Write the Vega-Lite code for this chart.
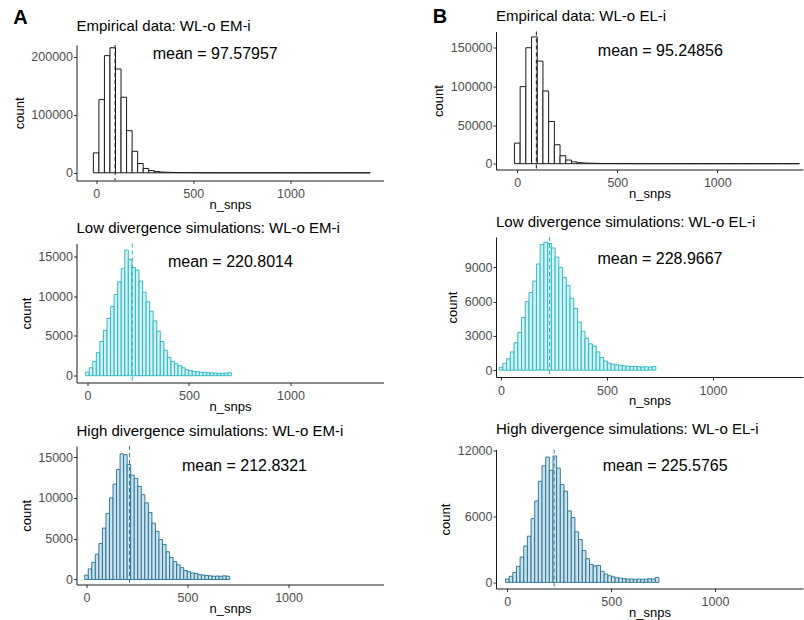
{
  "$schema": "https://vega.github.io/schema/vega-lite/v6.json",
  "padding": {"left": 12.5, "top": 6.5, "right": 2, "bottom": 1},
  "background": "white",
  "config": {
    "font": "Liberation Sans",
    "view": {"stroke": null},
    "axis": {"grid": false, "domainColor": "#1a1a1a", "domainWidth": 1, "tickColor": "#333333", "tickWidth": 1, "tickSize": 3, "labelColor": "#4d4d4d", "labelFontSize": 12.5, "titleFontSize": 13, "titleFontWeight": "normal", "titleColor": "#000000", "labelFlush": false, "labelOverlap": false, "labelBound": false, "format": "d"},
    "axisX": {"labelPadding": 4, "titlePadding": -2},
    "axisY": {"labelPadding": 1, "titlePadding": 4.5},
    "title": {"fontSize": 15, "fontWeight": "normal", "anchor": "start", "frame": "group", "offset": 7, "color": "#000000"}
  },
  "datasets": {
    "emp": [
      {"x0": -14.25, "x1": 14.25, "A": 34300, "B": 26600},
      {"x0": 14.25, "x1": 42.75, "A": 126000, "B": 99700},
      {"x0": 42.75, "x1": 71.25, "A": 201500, "B": 150000},
      {"x0": 71.25, "x1": 99.75, "A": 215000, "B": 164000},
      {"x0": 99.75, "x1": 128.25, "A": 178500, "B": 132700},
      {"x0": 128.25, "x1": 156.75, "A": 130000, "B": 94000},
      {"x0": 156.75, "x1": 185.25, "A": 72500, "B": 54600},
      {"x0": 185.25, "x1": 213.75, "A": 37000, "B": 24500},
      {"x0": 213.75, "x1": 242.25, "A": 16000, "B": 10300},
      {"x0": 242.25, "x1": 270.75, "A": 7500, "B": 4700},
      {"x0": 270.75, "x1": 299.25, "A": 3800, "B": 2400},
      {"x0": 299.25, "x1": 327.75, "A": 2200, "B": 1300},
      {"x0": 327.75, "x1": 356.25, "A": 1300, "B": 850},
      {"x0": 356.25, "x1": 384.75, "A": 900, "B": 600},
      {"x0": 384.75, "x1": 413.25, "A": 650, "B": 430},
      {"x0": 413.25, "x1": 441.75, "A": 480, "B": 320},
      {"x0": 441.75, "x1": 470.25, "A": 360, "B": 240},
      {"x0": 470.25, "x1": 498.75, "A": 280, "B": 185},
      {"x0": 498.75, "x1": 527.25, "A": 220, "B": 145},
      {"x0": 527.25, "x1": 555.75, "A": 170, "B": 115},
      {"x0": 555.75, "x1": 584.25, "A": 140, "B": 90},
      {"x0": 584.25, "x1": 612.75, "A": 110, "B": 72},
      {"x0": 612.75, "x1": 641.25, "A": 90, "B": 60},
      {"x0": 641.25, "x1": 669.75, "A": 75, "B": 50},
      {"x0": 669.75, "x1": 698.25, "A": 60, "B": 40},
      {"x0": 698.25, "x1": 726.75, "A": 50, "B": 33},
      {"x0": 726.75, "x1": 755.25, "A": 42, "B": 28},
      {"x0": 755.25, "x1": 783.75, "A": 35, "B": 23},
      {"x0": 783.75, "x1": 812.25, "A": 30, "B": 20},
      {"x0": 812.25, "x1": 840.75, "A": 25, "B": 17},
      {"x0": 840.75, "x1": 869.25, "A": 22, "B": 14},
      {"x0": 869.25, "x1": 897.75, "A": 18, "B": 12},
      {"x0": 897.75, "x1": 926.25, "A": 15, "B": 10},
      {"x0": 926.25, "x1": 954.75, "A": 13, "B": 9},
      {"x0": 954.75, "x1": 983.25, "A": 11, "B": 7},
      {"x0": 983.25, "x1": 1011.75, "A": 9, "B": 6},
      {"x0": 1011.75, "x1": 1040.25, "A": 8, "B": 5},
      {"x0": 1040.25, "x1": 1068.75, "A": 7, "B": 5},
      {"x0": 1068.75, "x1": 1097.25, "A": 6, "B": 4},
      {"x0": 1097.25, "x1": 1125.75, "A": 5, "B": 3},
      {"x0": 1125.75, "x1": 1154.25, "A": 4, "B": 3},
      {"x0": 1154.25, "x1": 1182.75, "A": 4, "B": 2},
      {"x0": 1182.75, "x1": 1211.25, "A": 3, "B": 2},
      {"x0": 1211.25, "x1": 1239.75, "A": 3, "B": 2},
      {"x0": 1239.75, "x1": 1268.25, "A": 2, "B": 1},
      {"x0": 1268.25, "x1": 1296.75, "A": 2, "B": 1},
      {"x0": 1296.75, "x1": 1325.25, "A": 2, "B": 1},
      {"x0": 1325.25, "x1": 1353.75, "A": 1, "B": 1},
      {"x0": 1353.75, "x1": 1382.25, "A": 1, "B": 1},
      {"x0": 1382.25, "x1": 1410.75, "A": 1, "B": 1}
    ],
    "em": [
      {"x0": -8.75, "x1": 8.75, "low": 450, "high": 530},
      {"x0": 8.75, "x1": 26.25, "low": 1000, "high": 1300},
      {"x0": 26.25, "x1": 43.75, "low": 1800, "high": 2100},
      {"x0": 43.75, "x1": 61.25, "low": 2900, "high": 3100},
      {"x0": 61.25, "x1": 78.75, "low": 4300, "high": 4400},
      {"x0": 78.75, "x1": 96.25, "low": 5700, "high": 6300},
      {"x0": 96.25, "x1": 113.75, "low": 7200, "high": 8100},
      {"x0": 113.75, "x1": 131.25, "low": 8700, "high": 10000},
      {"x0": 131.25, "x1": 148.75, "low": 10200, "high": 11700},
      {"x0": 148.75, "x1": 166.25, "low": 11800, "high": 13500},
      {"x0": 166.25, "x1": 183.75, "low": 13500, "high": 15400},
      {"x0": 183.75, "x1": 201.25, "low": 15800, "high": 15300},
      {"x0": 201.25, "x1": 218.75, "low": 14600, "high": 14100},
      {"x0": 218.75, "x1": 236.25, "low": 13600, "high": 12800},
      {"x0": 236.25, "x1": 253.75, "low": 13300, "high": 12400},
      {"x0": 253.75, "x1": 271.25, "low": 11900, "high": 11400},
      {"x0": 271.25, "x1": 288.75, "low": 10500, "high": 10400},
      {"x0": 288.75, "x1": 306.25, "low": 9300, "high": 9400},
      {"x0": 306.25, "x1": 323.75, "low": 8100, "high": 8200},
      {"x0": 323.75, "x1": 341.25, "low": 6900, "high": 6900},
      {"x0": 341.25, "x1": 358.75, "low": 5600, "high": 5900},
      {"x0": 358.75, "x1": 376.25, "low": 4300, "high": 4900},
      {"x0": 376.25, "x1": 393.75, "low": 3200, "high": 4300},
      {"x0": 393.75, "x1": 411.25, "low": 2300, "high": 3400},
      {"x0": 411.25, "x1": 428.75, "low": 1800, "high": 2700},
      {"x0": 428.75, "x1": 446.25, "low": 1500, "high": 2200},
      {"x0": 446.25, "x1": 463.75, "low": 1250, "high": 1800},
      {"x0": 463.75, "x1": 481.25, "low": 1000, "high": 1450},
      {"x0": 481.25, "x1": 498.75, "low": 750, "high": 1100},
      {"x0": 498.75, "x1": 516.25, "low": 650, "high": 950},
      {"x0": 516.25, "x1": 533.75, "low": 550, "high": 800},
      {"x0": 533.75, "x1": 551.25, "low": 500, "high": 750},
      {"x0": 551.25, "x1": 568.75, "low": 450, "high": 600},
      {"x0": 568.75, "x1": 586.25, "low": 420, "high": 550},
      {"x0": 586.25, "x1": 603.75, "low": 380, "high": 500},
      {"x0": 603.75, "x1": 621.25, "low": 350, "high": 450},
      {"x0": 621.25, "x1": 638.75, "low": 330, "high": 400},
      {"x0": 638.75, "x1": 656.25, "low": 300, "high": 420},
      {"x0": 656.25, "x1": 673.75, "low": 300, "high": 400},
      {"x0": 673.75, "x1": 691.25, "low": 320, "high": 450},
      {"x0": 691.25, "x1": 708.75, "low": 380, "high": 400}
    ],
    "el": [
      {"x0": -8.8, "x1": 8.8, "low": 250, "high": 300},
      {"x0": 8.8, "x1": 26.4, "low": 600, "high": 550},
      {"x0": 26.4, "x1": 44, "low": 1000, "high": 900},
      {"x0": 44, "x1": 61.6, "low": 1600, "high": 1450},
      {"x0": 61.6, "x1": 79.2, "low": 2400, "high": 2300},
      {"x0": 79.2, "x1": 96.8, "low": 3300, "high": 3300},
      {"x0": 96.8, "x1": 114.4, "low": 4600, "high": 4200},
      {"x0": 114.4, "x1": 132, "low": 6000, "high": 5800},
      {"x0": 132, "x1": 149.6, "low": 6800, "high": 7400},
      {"x0": 149.6, "x1": 167.2, "low": 7800, "high": 9200},
      {"x0": 167.2, "x1": 184.8, "low": 9300, "high": 10600},
      {"x0": 184.8, "x1": 202.4, "low": 11000, "high": 11400},
      {"x0": 202.4, "x1": 220, "low": 11200, "high": 10200},
      {"x0": 220, "x1": 237.6, "low": 11100, "high": 11500},
      {"x0": 237.6, "x1": 255.2, "low": 10700, "high": 10400},
      {"x0": 255.2, "x1": 272.8, "low": 9900, "high": 8900},
      {"x0": 272.8, "x1": 290.4, "low": 9000, "high": 8300},
      {"x0": 290.4, "x1": 308, "low": 8100, "high": 6500},
      {"x0": 308, "x1": 325.6, "low": 7400, "high": 5900},
      {"x0": 325.6, "x1": 343.2, "low": 6300, "high": 4600},
      {"x0": 343.2, "x1": 360.8, "low": 5400, "high": 3900},
      {"x0": 360.8, "x1": 378.4, "low": 4200, "high": 2900},
      {"x0": 378.4, "x1": 396, "low": 3400, "high": 2150},
      {"x0": 396, "x1": 413.6, "low": 2800, "high": 1630},
      {"x0": 413.6, "x1": 431.2, "low": 2300, "high": 1500},
      {"x0": 431.2, "x1": 448.8, "low": 2100, "high": 1550},
      {"x0": 448.8, "x1": 466.4, "low": 1600, "high": 1000},
      {"x0": 466.4, "x1": 484, "low": 1100, "high": 750},
      {"x0": 484, "x1": 501.6, "low": 800, "high": 600},
      {"x0": 501.6, "x1": 519.2, "low": 620, "high": 500},
      {"x0": 519.2, "x1": 536.8, "low": 520, "high": 420},
      {"x0": 536.8, "x1": 554.4, "low": 470, "high": 380},
      {"x0": 554.4, "x1": 572, "low": 420, "high": 330},
      {"x0": 572, "x1": 589.6, "low": 380, "high": 300},
      {"x0": 589.6, "x1": 607.2, "low": 350, "high": 300},
      {"x0": 607.2, "x1": 624.8, "low": 330, "high": 280},
      {"x0": 624.8, "x1": 642.4, "low": 310, "high": 300},
      {"x0": 642.4, "x1": 660, "low": 290, "high": 280},
      {"x0": 660, "x1": 677.6, "low": 280, "high": 300},
      {"x0": 677.6, "x1": 695.2, "low": 300, "high": 320},
      {"x0": 695.2, "x1": 712.8, "low": 270, "high": 300},
      {"x0": 712.8, "x1": 730.4, "low": 320, "high": 450}
    ]
  },
  "columns": 2,
  "spacing": 48.5,
  "concat": [
    {
      "title": {"text": "A", "orient": "top", "anchor": "start", "frame": "bounds", "offset": -8.5, "dx": 0, "fontSize": 20, "fontWeight": "bold", "color": "#000000"},
      "columns": 1,
      "spacing": 9.5,
      "concat": [
        {
          "width": 307, "height": 0.01,
          "title": {"text": "Empirical data: WL-o EM-i", "offset": -2.5},
          "data": {"values": []},
          "mark": {"type": "point", "opacity": 0}
        },
        {
          "width": 307, "height": 135.5,
          "layer": [
            {"data": {"name": "emp"}, "mark": {"type": "rect", "fill": "#ffffff", "stroke": "#1a1a1a", "strokeWidth": 1},
             "encoding": {
               "x": {"field": "x0", "type": "quantitative", "scale": {"domain": [-101, 1479], "nice": false, "padding": 0}, "axis": {"values": [0, 500, 1000], "title": "n_snps"}},
               "x2": {"field": "x1"},
               "y": {"field": "A", "type": "quantitative", "scale": {"domain": [-13200, 219800], "nice": false, "padding": 0}, "axis": {"values": [0, 50000, 100000, 150000, 200000], "title": "count"}},
               "y2": {"datum": 0}
             }},
            {"data": {"values": [{"mean": 97.57957, "label": "mean = 97.57957", "lx": 613, "ly": 205000}]},
             "mark": {"type": "rule", "color": "#1a1a1a", "strokeDash": [4, 3], "strokeWidth": 1},
             "encoding": {"x": {"field": "mean", "type": "quantitative", "title": "n_snps"}}},
            {"data": {"values": [{"mean": 97.57957, "label": "mean = 97.57957", "lx": 613, "ly": 205000}]},
             "mark": {"type": "text", "fontSize": 16, "color": "#000000"},
             "encoding": {"x": {"field": "lx", "type": "quantitative", "title": "n_snps"}, "y": {"field": "ly", "type": "quantitative", "title": "count"}, "text": {"field": "label"}}}
          ]
        },
        {
          "width": 307, "height": 139,
          "title": {"text": "Low divergence simulations: WL-o EM-i"},
          "layer": [
            {"data": {"name": "em"}, "mark": {"type": "rect", "fill": "#d3f0f3", "stroke": "#22b5c4", "strokeWidth": 0.9},
             "encoding": {
               "x": {"field": "x0", "type": "quantitative", "scale": {"domain": [-54, 1458], "nice": false, "padding": 0}, "axis": {"values": [0, 500, 1000], "title": "n_snps"}},
               "x2": {"field": "x1"},
               "y": {"field": "low", "type": "quantitative", "scale": {"domain": [-855, 16623], "nice": false, "padding": 0}, "axis": {"values": [0, 5000, 10000, 15000], "title": "count"}},
               "y2": {"datum": 0}
             }},
            {"data": {"values": [{"mean": 220.8014, "label": "mean = 220.8014", "lx": 704, "ly": 14250}]},
             "mark": {"type": "rule", "color": "#22b5c4", "strokeDash": [4, 3], "strokeWidth": 1},
             "encoding": {"x": {"field": "mean", "type": "quantitative", "title": "n_snps"}}},
            {"data": {"values": [{"mean": 220.8014, "label": "mean = 220.8014", "lx": 704, "ly": 14250}]},
             "mark": {"type": "text", "fontSize": 16, "color": "#000000"},
             "encoding": {"x": {"field": "lx", "type": "quantitative", "title": "n_snps"}, "y": {"field": "ly", "type": "quantitative", "title": "count"}, "text": {"field": "label"}}}
          ]
        },
        {
          "width": 307, "height": 138.5,
          "title": {"text": "High divergence simulations: WL-o EM-i"},
          "layer": [
            {"data": {"name": "em"}, "mark": {"type": "rect", "fill": "#cde1ea", "stroke": "#1f6f94", "strokeWidth": 0.9},
             "encoding": {
               "x": {"field": "x0", "type": "quantitative", "scale": {"domain": [-49.5, 1470], "nice": false, "padding": 0}, "axis": {"values": [0, 500, 1000], "title": "n_snps"}},
               "x2": {"field": "x1"},
               "y": {"field": "high", "type": "quantitative", "scale": {"domain": [-613, 16362], "nice": false, "padding": 0}, "axis": {"values": [0, 5000, 10000, 15000], "title": "count"}},
               "y2": {"datum": 0}
             }},
            {"data": {"values": [{"mean": 212.8321, "label": "mean = 212.8321", "lx": 782, "ly": 13890}]},
             "mark": {"type": "rule", "color": "#2a82a8", "strokeDash": [4, 3], "strokeWidth": 1},
             "encoding": {"x": {"field": "mean", "type": "quantitative", "title": "n_snps"}}},
            {"data": {"values": [{"mean": 212.8321, "label": "mean = 212.8321", "lx": 782, "ly": 13890}]},
             "mark": {"type": "text", "fontSize": 16, "color": "#000000"},
             "encoding": {"x": {"field": "lx", "type": "quantitative", "title": "n_snps"}, "y": {"field": "ly", "type": "quantitative", "title": "count"}, "text": {"field": "label"}}}
          ]
        }
      ]
    },
    {
      "title": {"text": "B", "orient": "top", "anchor": "start", "frame": "bounds", "offset": -17.5, "dx": 0, "fontSize": 20, "fontWeight": "bold", "color": "#000000"},
      "columns": 1,
      "spacing": 13.5,
      "concat": [
        {
          "width": 307, "height": 138,
          "title": {"text": "Empirical data: WL-o EL-i"},
          "layer": [
            {"data": {"name": "emp"}, "mark": {"type": "rect", "fill": "#ffffff", "stroke": "#1a1a1a", "strokeWidth": 1},
             "encoding": {
               "x": {"field": "x0", "type": "quantitative", "scale": {"domain": [-106.5, 1428.5], "nice": false, "padding": 0}, "axis": {"values": [0, 500, 1000], "title": "n_snps"}},
               "x2": {"field": "x1"},
               "y": {"field": "B", "type": "quantitative", "scale": {"domain": [-7500, 171000], "nice": false, "padding": 0}, "axis": {"values": [0, 50000, 100000, 150000], "title": "count"}},
               "y2": {"datum": 0}
             }},
            {"data": {"values": [{"mean": 95.24856, "label": "mean = 95.24856", "lx": 715, "ly": 146000}]},
             "mark": {"type": "rule", "color": "#1a1a1a", "strokeDash": [4, 3], "strokeWidth": 1},
             "encoding": {"x": {"field": "mean", "type": "quantitative", "title": "n_snps"}}},
            {"data": {"values": [{"mean": 95.24856, "label": "mean = 95.24856", "lx": 715, "ly": 146000}]},
             "mark": {"type": "text", "fontSize": 16, "color": "#000000"},
             "encoding": {"x": {"field": "lx", "type": "quantitative", "title": "n_snps"}, "y": {"field": "ly", "type": "quantitative", "title": "count"}, "text": {"field": "label"}}}
          ]
        },
        {
          "width": 307, "height": 140,
          "title": {"text": "Low divergence simulations: WL-o EL-i"},
          "layer": [
            {"data": {"name": "el"}, "mark": {"type": "rect", "fill": "#d3f0f3", "stroke": "#22b5c4", "strokeWidth": 0.9},
             "encoding": {
               "x": {"field": "x0", "type": "quantitative", "scale": {"domain": [-23.6, 1424.4], "nice": false, "padding": 0}, "axis": {"values": [0, 500, 1000], "title": "n_snps"}},
               "x2": {"field": "x1"},
               "y": {"field": "low", "type": "quantitative", "scale": {"domain": [-600, 11660], "nice": false, "padding": 0}, "axis": {"values": [0, 3000, 6000, 9000], "title": "count"}},
               "y2": {"datum": 0}
             }},
            {"data": {"values": [{"mean": 228.9667, "label": "mean = 228.9667", "lx": 750, "ly": 9700}]},
             "mark": {"type": "rule", "color": "#22b5c4", "strokeDash": [4, 3], "strokeWidth": 1},
             "encoding": {"x": {"field": "mean", "type": "quantitative", "title": "n_snps"}}},
            {"data": {"values": [{"mean": 228.9667, "label": "mean = 228.9667", "lx": 750, "ly": 9700}]},
             "mark": {"type": "text", "fontSize": 16, "color": "#000000"},
             "encoding": {"x": {"field": "lx", "type": "quantitative", "title": "n_snps"}, "y": {"field": "ly", "type": "quantitative", "title": "count"}, "text": {"field": "label"}}}
          ]
        },
        {
          "width": 307, "height": 139,
          "title": {"text": "High divergence simulations: WL-o EL-i"},
          "layer": [
            {"data": {"name": "el"}, "mark": {"type": "rect", "fill": "#cde1ea", "stroke": "#1f6f94", "strokeWidth": 0.9},
             "encoding": {
               "x": {"field": "x0", "type": "quantitative", "scale": {"domain": [-54.4, 1423.6], "nice": false, "padding": 0}, "axis": {"values": [0, 500, 1000], "title": "n_snps"}},
               "x2": {"field": "x1"},
               "y": {"field": "high", "type": "quantitative", "scale": {"domain": [-560, 12090], "nice": false, "padding": 0}, "axis": {"values": [0, 3000, 6000, 9000, 12000], "title": "count"}},
               "y2": {"datum": 0}
             }},
            {"data": {"values": [{"mean": 225.5765, "label": "mean = 225.5765", "lx": 760, "ly": 10545}]},
             "mark": {"type": "rule", "color": "#2a82a8", "strokeDash": [4, 3], "strokeWidth": 1},
             "encoding": {"x": {"field": "mean", "type": "quantitative", "title": "n_snps"}}},
            {"data": {"values": [{"mean": 225.5765, "label": "mean = 225.5765", "lx": 760, "ly": 10545}]},
             "mark": {"type": "text", "fontSize": 16, "color": "#000000"},
             "encoding": {"x": {"field": "lx", "type": "quantitative", "title": "n_snps"}, "y": {"field": "ly", "type": "quantitative", "title": "count"}, "text": {"field": "label"}}}
          ]
        }
      ]
    }
  ]
}
